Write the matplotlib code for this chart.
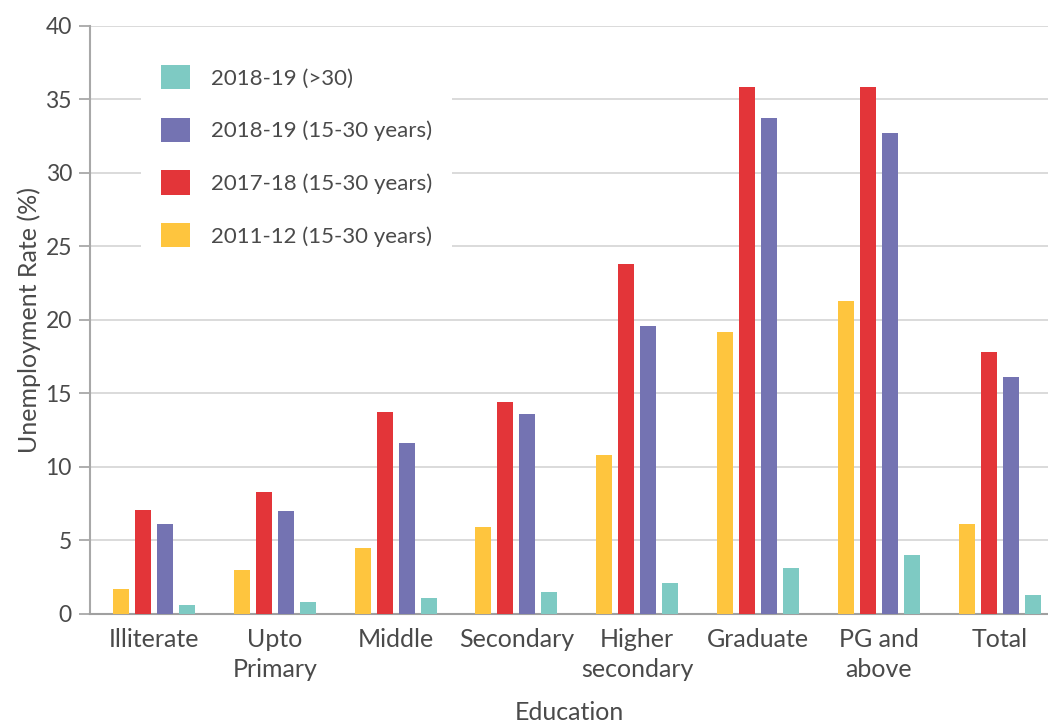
import matplotlib.pyplot as plt
import numpy as np

plt.rcParams['font.family'] = ['Lato', 'DejaVu Sans']

# data
categories = ['Illiterate', 'Upto\nPrimary', 'Middle', 'Secondary',
              'Higher\nsecondary', 'Graduate', 'PG and\nabove', 'Total']
y2011 = [1.7, 3.0, 4.5, 5.9, 10.8, 19.2, 21.3, 6.1]
y2017 = [7.1, 8.3, 13.7, 14.4, 23.8, 35.8, 35.8, 17.8]
y2018 = [6.1, 7.0, 11.6, 13.6, 19.6, 33.7, 32.7, 16.1]
y2018_old = [0.6, 0.8, 1.1, 1.5, 2.1, 3.1, 4.0, 1.3]

series = [
    ('2011-12 (15-30 years)', y2011, '#fec53e'),
    ('2017-18 (15-30 years)', y2017, '#e33539'),
    ('2018-19 (15-30 years)', y2018, '#7473b2'),
    ('2018-19 (>30)', y2018_old, '#7ecac3'),
]

txt = '#4a4a4a'
fig = plt.figure(figsize=(10.48, 7.22), dpi=100)
ax = fig.add_axes([90/1048, 1-614/722, 1-90/1048, (614-25.5)/722])

x = np.arange(len(categories))
w = 0.132
offs = [-0.273, -0.091, 0.091, 0.273]
for (lab, vals, col), o in zip(series, offs):
    ax.bar(x + o, vals, w, color=col, label=lab, zorder=3)

ax.set_xlim(-0.53, -0.53 + 958/120.8)
ax.set_ylim(0, 40)
ax.set_yticks(range(0, 41, 5))
ax.grid(axis='y', color='#d4d4d4', lw=1.2, zorder=0)
ax.set_axisbelow(True)

for s in ['top', 'right']:
    ax.spines[s].set_visible(False)
ax.spines['left'].set_color('#a8a8a8')
ax.spines['left'].set_linewidth(1.5)
ax.spines['bottom'].set_color('#a0a0a0')
ax.spines['bottom'].set_linewidth(1.5)

ax.set_xticks(x)
ax.set_xticklabels(categories, fontsize=18, color=txt, linespacing=1.38)
ax.tick_params(axis='x', length=0, pad=10)
ax.tick_params(axis='y', length=8, width=1.3, color='#a8a8a8',
               labelsize=16.5, labelcolor=txt, pad=5)

ax.set_ylabel('Unemployment Rate (%)', fontsize=18, color=txt, labelpad=3)
ax.set_xlabel('Education', fontsize=18, color=txt, labelpad=14)

h, l = ax.get_legend_handles_labels()
leg = ax.legend(h[::-1], l[::-1], loc='upper left',
                bbox_to_anchor=(141/1048, 1-45/722), bbox_transform=fig.transFigure,
                fontsize=16, frameon=True, facecolor='white', edgecolor='none',
                framealpha=1, fancybox=False, borderpad=0.9, borderaxespad=0,
                handlelength=1.3, handleheight=1.3, handletextpad=0.95,
                labelspacing=1.28)
for t in leg.get_texts():
    t.set_color(txt)

fig.savefig('out.png', dpi=100)
